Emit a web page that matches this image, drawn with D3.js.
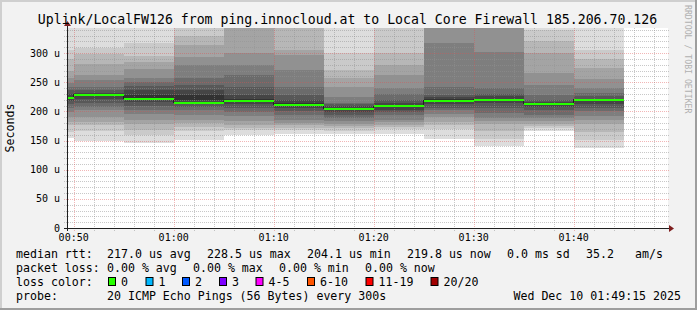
<!DOCTYPE html>
<html lang="en">
<head>
<meta charset="UTF-8">
<title>Uplink/LocalFW126 smokeping</title>
<script src="https://cdn.jsdelivr.net/npm/d3@7"></script>
<style>
  body { margin: 0; background: #fff; }
  svg text { font-family: "DejaVu Sans Mono", monospace; fill: #000; }
</style>
</head>
<body>
<div id="graph-div"></div>
<script>
// each step covers the 5 minutes before its end time
const stepEnds = ["00:50", "00:55", "01:00", "01:05", "01:10", "01:15",
                  "01:20", "01:25", "01:30", "01:35", "01:40", "01:45"];
const medians = [223.5, 228.5, 221.5, 215.0, 217.0, 211.0, 204.1, 209.0, 218.0, 220.0, 213.0, 219.8];
// 20 sorted ping rtts (us) per step
const pings = [
  [154, 165, 176, 182, 190, 199, 205, 212, 218, 222, 225, 230, 236, 242, 248, 258, 270, 290, 305, 350],
  [149, 166, 177, 182, 191, 202, 208, 214, 221, 227, 229, 231, 237, 242, 254, 262, 281, 298, 309, 360],
  [146, 160, 168, 178, 186, 196, 203, 210, 216, 222, 228, 236, 243, 250, 258, 272, 285, 295, 318, 355],
  [151, 166, 174, 180, 186, 194, 202, 208, 213, 220, 228, 236, 245, 257, 279, 294, 314, 330, 355, 390],
  [159, 168, 172, 177, 184, 192, 199, 205, 213, 218, 222, 228, 242, 262, 280, 300, 350, 365, 390, 420],
  [162, 168, 172, 176, 180, 186, 193, 200, 205, 209, 214, 220, 228, 242, 271, 296, 305, 350, 370, 400],
  [161, 167, 171, 175, 178, 184, 188, 194, 199, 203, 206, 209, 212, 215, 225, 242, 257, 271, 300, 360],
  [162, 170, 174, 177, 181, 186, 193, 199, 203, 208, 211, 214, 220, 229, 240, 262, 280, 300, 350, 370],
  [153, 170, 177, 182, 190, 196, 202, 205, 212, 218, 221, 224, 228, 242, 317, 345, 360, 390, 420, 450],
  [141, 152, 166, 178, 183, 188, 198, 206, 214, 219, 222, 226, 230, 240, 302, 344, 350, 370, 400, 440],
  [167, 171, 175, 179, 183, 188, 194, 202, 208, 212, 214, 216, 220, 228, 245, 265, 300, 320, 340, 355],
  [138, 151, 165, 178, 185, 192, 200, 206, 212, 218, 220, 222, 226, 232, 240, 255, 275, 290, 305, 360]
];
const yTicks = [0, 50, 100, 150, 200, 250, 300];
const xTicks = ["00:50", "01:00", "01:10", "01:20", "01:30", "01:40"];
const lossLabels = ["0", "1", "2", "3", "4-5", "6-10", "11-19", "20/20"];
const lossColors = ["#26ff00", "#00b8ff", "#0059ff", "#7e00ff", "#ff00ff", "#ff5500", "#ff0000", "#a10000"];

const title = "Uplink/LocalFW126 from ping.innocloud.at to Local Core Firewall 185.206.70.126";
const rttLine = ["median rtt:", "217.0 us avg", "228.5 us max", "204.1 us min", "219.8 us now", "0.0 ms sd", "35.2", "am/s"];
const lossLine = ["packet loss:", "0.00 % avg", "0.00 % max", "0.00 % min", "0.00 % now"];
const probeText = "20 ICMP Echo Pings (56 Bytes) every 300s";
const stampText = "Wed Dec 10 01:49:15 2025";

const w = 697, h = 310;
const pLeft = 67, pRight = 667, pTop = 28, pBottom = 228;

const parseT = d3.timeParse("%H:%M");
const tStart = new Date(parseT("00:49").getTime() + 20000);
const tEnd = new Date(tStart.getTime() + 3600000);

const x = d3.scaleTime().domain([tStart, tEnd]).range([pLeft, pRight]);
const y = d3.scaleLinear().domain([0, 343]).range([pBottom, pTop]);

const svg = d3.select("#graph-div").append("svg")
  .attr("width", w).attr("height", h);

// frame
svg.append("rect").attr("width", w).attr("height", h).attr("fill", "#f2f2f2");
svg.append("path").attr("d", `M0,0H${w}V2H2V${h}H0Z`).attr("fill", "#cfcfcf");
svg.append("path").attr("d", `M${w},${h}H0V${h - 2}H${w - 2}V0H${w}Z`).attr("fill", "#9e9e9e");

svg.append("clipPath").attr("id", "cv")
  .append("rect").attr("x", pLeft).attr("y", pTop).attr("width", pRight - pLeft + 1).attr("height", pBottom - pTop);
svg.append("rect").attr("x", pLeft).attr("y", pTop).attr("width", pRight - pLeft + 1).attr("height", pBottom - pTop)
  .attr("fill", "#fff");

// smoke
const steps = stepEnds.map((s, i) => {
  const t1 = parseT(s);
  return { t0: new Date(t1.getTime() - 300000), t1: t1, p: pings[i], med: medians[i] };
});
const smoke = svg.append("g").attr("clip-path", "url(#cv)").attr("shape-rendering", "crispEdges");
for (let i = 1; i <= 10; i++) {
  const c = Math.floor(190 / 10 * (10 - i)) + 50;
  const col = d3.rgb(c, c, c);
  smoke.selectAll(null).data(steps).enter().append("rect")
    .attr("x", d => Math.round(x(d.t0)))
    .attr("width", d => Math.round(x(d.t1)) - Math.round(x(d.t0)))
    .attr("y", d => y(d.p[20 - i]))
    .attr("height", d => y(d.p[i - 1]) - y(d.p[20 - i]))
    .attr("fill", col);
}

// grid (dotted, drawn over the smoke like rrdtool does)
const grid = svg.append("g");
const minorY = d3.range(10, 341, 10).filter(v => v % 50 != 0);
const minorX = d3.timeMinute.every(2).range(tStart, tEnd).filter(t => t.getMinutes() % 10 != 0);
const majorX = xTicks.map(parseT);
const minorCol = "rgba(145,145,145,0.5)", majorCol = "rgba(222,80,80,0.42)";

grid.selectAll(".hy").data(minorY).enter().append("line")
  .attr("x1", pLeft - 3).attr("x2", pRight + 2)
  .attr("y1", d => Math.round(y(d)) + 0.5).attr("y2", d => Math.round(y(d)) + 0.5)
  .attr("stroke", minorCol).attr("stroke-dasharray", "1,1");
grid.selectAll(".vx").data(minorX).enter().append("line")
  .attr("y1", pTop).attr("y2", pBottom + 3)
  .attr("x1", d => Math.round(x(d)) + 0.5).attr("x2", d => Math.round(x(d)) + 0.5)
  .attr("stroke", minorCol).attr("stroke-dasharray", "1,1");
grid.selectAll(".my").data(yTicks.slice(1)).enter().append("line")
  .attr("x1", pLeft - 3).attr("x2", pRight + 2)
  .attr("y1", d => Math.round(y(d)) + 0.5).attr("y2", d => Math.round(y(d)) + 0.5)
  .attr("stroke", majorCol).attr("stroke-dasharray", "1,1");
grid.selectAll(".mx").data(majorX).enter().append("line")
  .attr("y1", pTop).attr("y2", pBottom + 3)
  .attr("x1", d => Math.round(x(d)) + 0.5).attr("x2", d => Math.round(x(d)) + 0.5)
  .attr("stroke", majorCol).attr("stroke-dasharray", "1,1");

// median line: dark step line, green (0 loss) on top
const medPts = [];
steps.forEach(d => {
  medPts.push([Math.max(pLeft, x(d.t0)), y(d.med)]);
  medPts.push([x(d.t1), y(d.med)]);
});
svg.append("path").attr("d", d3.line()(medPts))
  .attr("fill", "none").attr("stroke", "#202020").attr("stroke-width", 1)
  .attr("shape-rendering", "crispEdges");
svg.append("g").attr("clip-path", "url(#cv)").attr("shape-rendering", "crispEdges")
  .selectAll("rect").data(steps).enter().append("rect")
  .attr("x", d => Math.round(x(d.t0)))
  .attr("width", d => Math.round(x(d.t1)) - Math.round(x(d.t0)))
  .attr("y", d => Math.round(y(d.med)) - 1)
  .attr("height", 2)
  .attr("fill", lossColors[0]);

// axes
const ax = svg.append("g").attr("shape-rendering", "crispEdges");
ax.append("line").attr("x1", pLeft - 3).attr("x2", pRight + 2).attr("y1", pBottom + 0.5).attr("y2", pBottom + 0.5)
  .attr("stroke", "#1f1f1f");
ax.append("line").attr("x1", pLeft + 0.5).attr("x2", pLeft + 0.5).attr("y1", pBottom + 3).attr("y2", pTop - 2)
  .attr("stroke", "#1f1f1f");
svg.append("path").attr("d", `M${pRight + 2},${pBottom - 3}L${pRight + 7},${pBottom + 0.5}L${pRight + 2},${pBottom + 4}Z`)
  .attr("fill", "#7f1f1f");
svg.append("path").attr("d", `M${pLeft - 3},${pTop - 2}L${pLeft + 0.5},${pTop - 7}L${pLeft + 4},${pTop - 2}Z`)
  .attr("fill", "#7f1f1f");

svg.selectAll(".yl").data(yTicks).enter().append("text")
  .attr("x", 60).attr("y", d => y(d)).attr("dy", "0.36em")
  .attr("text-anchor", "end").style("font-size", "10px")
  .text(d => d == 0 ? "0" : d + " u");
svg.selectAll(".xl").data(majorX).enter().append("text")
  .attr("x", d => x(d)).attr("y", 240.5)
  .attr("text-anchor", "middle").style("font-size", "10px")
  .text(d3.timeFormat("%H:%M"));

svg.append("text").text("Seconds")
  .attr("transform", "translate(14,128) rotate(-90)")
  .attr("text-anchor", "middle").style("font-size", "11.6px");

svg.append("text").text(title)
  .attr("x", 347.5).attr("y", 23.5).attr("text-anchor", "middle")
  .style("font-size", "13.2px");

svg.append("text").text("RRDTOOL / TOBI OETIKER")
  .attr("transform", "translate(685,5) rotate(90)")
  .style("font-size", "8.2px").style("fill", "#b0b0b0");

// legend
const lf = "11.6px";
const rttX = [16, 107, 207, 307, 407, 507, 586, 635];
svg.selectAll(".l1").data(rttLine).enter().append("text")
  .attr("x", (d, i) => rttX[i]).attr("y", 258).style("font-size", lf).text(d => d);
const lossX = [16, 107, 193, 279, 365];
svg.selectAll(".l2").data(lossLine).enter().append("text")
  .attr("x", (d, i) => lossX[i]).attr("y", 272).style("font-size", lf).text(d => d);

svg.append("text").attr("x", 16).attr("y", 286).style("font-size", lf).text("loss color:");
const boxX = [108, 145.5, 182, 219, 255.5, 307, 365.5, 430.5];
const lc = svg.append("g");
lc.selectAll("rect").data(lossColors).enter().append("rect")
  .attr("x", (d, i) => boxX[i] + 0.5).attr("y", 277.5)
  .attr("width", 7).attr("height", 8)
  .attr("fill", d => d).attr("stroke", "#000");
lc.selectAll("text").data(lossLabels).enter().append("text")
  .attr("x", (d, i) => boxX[i] + 13).attr("y", 286)
  .style("font-size", lf).text(d => d);

svg.append("text").attr("x", 16).attr("y", 300).style("font-size", lf).text("probe:");
svg.append("text").attr("x", 107).attr("y", 300).style("font-size", lf).text(probeText);
svg.append("text").attr("x", 681).attr("y", 300).attr("text-anchor", "end").style("font-size", lf).text(stampText);
</script>
</body>
</html>
